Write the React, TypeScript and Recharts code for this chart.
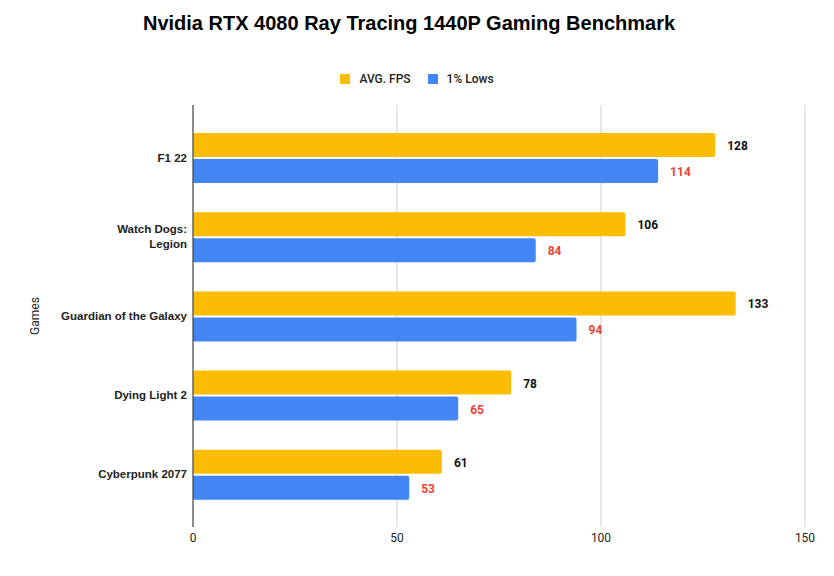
import React from "react";
import { BarChart, Bar, XAxis, YAxis, CartesianGrid, LabelList } from "recharts";

const games = ["F1 22", "Watch Dogs: Legion", "Guardian of the Galaxy", "Dying Light 2", "Cyberpunk 2077"];
const avgFps = [128, 106, 133, 78, 61];
const lows = [114, 84, 94, 65, 53];
const xTicks = [0, 50, 100, 150];

const data = games.map((g, i) => ({ game: g, avg: avgFps[i], low: lows[i] }));

const FONT = "Roboto, Arial, sans-serif";
const ARIAL = "'Liberation Sans', Arial, sans-serif";

const GameTick = (props: any) => {
  const { x, y, payload } = props;
  const v: string = payload.value;
  const lines = v === "Watch Dogs: Legion" ? ["Watch Dogs:", "Legion"] : [v];
  const lh = 15;
  const start = -((lines.length - 1) * lh) / 2;
  return (
    <text x={x} y={y} textAnchor="end" fontFamily={ARIAL} fontSize={11.5} fontWeight="bold" fill="#222">
      {lines.map((l, i) => (
        <tspan key={i} x={x} dy={i === 0 ? start + 4 : lh}>
          {l}
        </tspan>
      ))}
    </text>
  );
};

const ValueLabel = (color: string) => (props: any) => {
  const { x, y, width, height, value } = props;
  return (
    <text
      x={x + width + 12}
      y={y + height / 2 + 5}
      fontFamily={FONT}
      fontSize={12}
      fontWeight="bold"
      fill={color}
    >
      {value}
    </text>
  );
};

export default function App() {
  return (
    <div style={{ position: "absolute", left: 0, top: 0, width: 834, height: 576, background: "#fff", fontFamily: FONT }}>
      <div
        style={{
          position: "absolute",
          left: 0,
          top: 12,
          width: 818,
          textAlign: "center",
          fontFamily: ARIAL,
          fontSize: 20,
          fontWeight: "bold",
          color: "#000",
        }}
      >
        Nvidia RTX 4080 Ray Tracing 1440P Gaming Benchmark
      </div>
      <div
        style={{
          position: "absolute",
          left: 0,
          top: 72,
          width: 834,
          display: "flex",
          justifyContent: "center",
          fontSize: 12,
          fontWeight: 500,
          color: "#222",
        }}
      >
        <div style={{ display: "flex", alignItems: "center" }}>
          <span style={{ width: 10, height: 10, background: "#fbbc04", display: "inline-block", marginRight: 9 }} />
          <span style={{ marginRight: 17 }}>AVG. FPS</span>
          <span style={{ width: 10, height: 10, background: "#4285f4", display: "inline-block", marginRight: 9 }} />
          <span>1% Lows</span>
        </div>
      </div>
      <div style={{ position: "absolute", left: 0, top: 0 }}>
        <BarChart
          width={834}
          height={576}
          data={data}
          layout="vertical"
          margin={{ top: 105, right: 29, bottom: 19, left: 0 }}
          barGap={2}
          barSize={24}
        >
          <CartesianGrid horizontal={false} vertical={true} stroke="#cccccc" />
          <XAxis
            type="number"
            domain={[0, 150]}
            ticks={xTicks}
            axisLine={false}
            tickLine={false}
            tickSize={0}
            tickMargin={6}
            height={30}
            tick={{ fontFamily: FONT, fontSize: 12, fill: "#222" }}
          />
          <YAxis
            type="category"
            dataKey="game"
            width={193}
            padding={{ top: 13, bottom: 13 }}
            axisLine={{ stroke: "#333", strokeWidth: 1 }}
            tickLine={false}
            tickSize={4}
            tickMargin={2}
            tick={<GameTick />}
            interval={0}
            label={{
              value: "Games",
              angle: -90,
              position: "insideLeft",
              offset: 35,
              style: { fontFamily: FONT, fontSize: 12, fill: "#222", textAnchor: "middle" },
            }}
          />
          <Bar dataKey="avg" fill="#fbbc04" radius={[0, 2, 2, 0]} isAnimationActive={false}>
            <LabelList dataKey="avg" content={ValueLabel("#111")} />
          </Bar>
          <Bar dataKey="low" fill="#4285f4" radius={[0, 2, 2, 0]} isAnimationActive={false}>
            <LabelList dataKey="low" content={ValueLabel("#ea4335")} />
          </Bar>
        </BarChart>
      </div>
    </div>
  );
}
